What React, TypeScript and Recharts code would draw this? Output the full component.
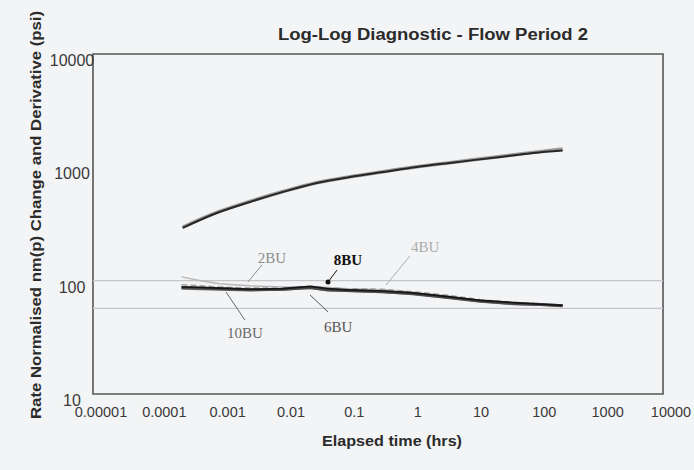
import React from 'react';
import { LineChart, Line, XAxis, YAxis, ReferenceLine, ReferenceArea, ReferenceDot } from 'recharts';

const xTicks = [0.00001, 0.0001, 0.001, 0.01, 0.1, 1, 10, 100, 1000, 10000];
const xTickLabels = ['0.00001', '0.0001', '0.001', '0.01', '0.1', '1', '10', '100', '1000', '10000'];
const yTicks = [10, 100, 1000, 10000];
const yTickLabels = ['10', '100', '1000', '10000'];

const titleText = 'Log-Log Diagnostic - Flow Period 2';
const xLabelText = 'Elapsed time (hrs)';
const yLabelText = 'Rate Normalised nm(p) Change and Derivative (psi)';

// pressure change (upper curves)
const changeTime = [0.00026, 0.0009, 0.003, 0.01, 0.034, 0.114, 0.38, 1.3, 4.3, 27, 89, 260];
const changeA = [292, 395, 495, 607, 728, 822, 910, 1008, 1094, 1236, 1341, 1410];
const changeB = [296, 400, 500, 612, 732, 826, 915, 1012, 1100, 1245, 1355, 1450];

// derivative (lower curves), one per build-up
const derivTime = [0.00025, 0.0005, 0.001, 0.003, 0.01, 0.027, 0.05, 0.1, 0.38, 1.1, 4.3, 13, 43, 120, 260];
const deriv2BU = [108, 100, 94, 90, 88, 89, 87, 85, 83, 79, 73, 67, 64, 62, 61];
const deriv4BU = [92, 90, 88, 86, 86, 89, 87, 85, 84, 80, 74, 68, 64.5, 62.5, 61];
const deriv6BU = [85, 84, 83, 82, 83, 86, 82, 81, 79, 76, 70, 65, 62, 61, 60];
const deriv8BU = [88, 87, 86, 84, 85, 89, 85, 83, 81, 78, 72, 67, 64, 62, 60.5];
const deriv10BU = [87, 86, 85, 83, 84, 87, 83, 82, 80, 77, 71, 66, 63, 61.5, 60];

const refLevels = [100, 57];

// annotation labels: text anchor and leader line ends, in data units
const annNames = ['2BU', '8BU', '4BU', '6BU', '10BU'];
const annTextT = [0.0067, 0.106, 1.75, 0.074, 0.0025];
const annTextV = [158, 152, 198, 39, 34.5];
const annFromT = [0.00467, 0.0713, 1.01, 0.0514, 0.0025];
const annFromV = [138, 124, 165, 53, 45];
const annToT = [0.0028, 0.0514, 0.424, 0.0267, 0.00126];
const annToV = [97.4, 97.4, 91.6, 74.8, 79.4];
const annColors = ['#8c8c8c', '#111111', '#ababab', '#555555', '#6a6a6a'];
const annBold = [false, true, false, false, false];

const zip = (ts: number[], vs: number[]) => ts.map((t, i) => ({ t, v: vs[i] }));

const derivSeries = [
  { name: '2BU', data: zip(derivTime, deriv2BU), color: '#b8b8b8', w: 1.5, dash: undefined },
  { name: '4BU', data: zip(derivTime, deriv4BU), color: '#a0a0a0', w: 1.5, dash: '6 3' },
  { name: '6BU', data: zip(derivTime, deriv6BU), color: '#777777', w: 2, dash: undefined },
  { name: '10BU', data: zip(derivTime, deriv10BU), color: '#4a4a4a', w: 3, dash: undefined },
  { name: '8BU', data: zip(derivTime, deriv8BU), color: '#151515', w: 1.6, dash: undefined },
];

const tickFont = "'Liberation Sans', Arial, sans-serif";

const XTick = (props: any) => {
  const { x, y, payload } = props;
  const i = xTicks.indexOf(payload.value);
  return (
    <text x={x + 8} y={y + 23} textAnchor="middle" fontSize={14.5} fill="#3a3a3a" fontFamily={tickFont}>
      {i >= 0 ? xTickLabels[i] : String(payload.value)}
    </text>
  );
};

const YTick = (props: any) => {
  const { x, y, payload } = props;
  const i = yTicks.indexOf(payload.value);
  return (
    <text x={x - 21} y={y + 12} textAnchor="middle" fontSize={16} fill="#3a3a3a" fontFamily={tickFont}>
      {i >= 0 ? yTickLabels[i] : String(payload.value)}
    </text>
  );
};

export default function App() {
  return (
    <div style={{ position: 'fixed', left: 0, top: 0, width: 694, height: 470, background: '#f3f4f6' }}>
      <LineChart width={694} height={470} margin={{ top: 54, right: 31, bottom: 46, left: 0 }}>
        <XAxis
          dataKey="t"
          type="number"
          scale="log"
          domain={[0.00001, 10000]}
          ticks={xTicks}
          allowDataOverflow
          axisLine={false}
          tickLine={false}
          tickSize={0}
          tickMargin={0}
          height={30}
          tick={<XTick />}
          interval={0}
        />
        <YAxis
          type="number"
          scale="log"
          domain={[10, 10000]}
          ticks={yTicks}
          allowDataOverflow
          axisLine={false}
          tickLine={false}
          tickSize={0}
          tickMargin={0}
          width={93}
          tick={<YTick />}
          interval={0}
        />
        {refLevels.map((lv) => (
          <ReferenceLine key={lv} y={lv} stroke="#c4c6c9" strokeWidth={1.2} />
        ))}
        <ReferenceArea x1={0.00001} x2={10000} y1={10} y2={10000} fill="none" stroke="#555" strokeWidth={1.6} ifOverflow="visible" />
        <Line data={zip(changeTime, changeB)} dataKey="v" stroke="#9a9a9a" strokeWidth={3.5} dot={false} isAnimationActive={false} type="monotone" />
        <Line data={zip(changeTime, changeA)} dataKey="v" stroke="#262626" strokeWidth={2} dot={false} isAnimationActive={false} type="monotone" />
        {derivSeries.map((s) => (
          <Line key={s.name} data={s.data} dataKey="v" stroke={s.color} strokeWidth={s.w} strokeDasharray={s.dash} dot={false} isAnimationActive={false} type="linear" />
        ))}
        {annNames.map((n, i) => (
          <ReferenceLine
            key={'l' + n}
            segment={[{ x: annFromT[i], y: annFromV[i] }, { x: annToT[i], y: annToV[i] }]}
            stroke={annColors[i]}
            strokeWidth={1}
          />
        ))}
        <ReferenceDot x={annToT[1]} y={annToV[1]} r={2.5} fill="#111" stroke="none" />
        {annNames.map((n, i) => (
          <ReferenceDot
            key={'t' + n}
            x={annTextT[i]}
            y={annTextV[i]}
            r={0}
            fill="none"
            stroke="none"
            label={{
              value: n,
              position: 'center',
              fill: annColors[i],
              fontSize: 15,
              fontWeight: annBold[i] ? 'bold' : 'normal',
              fontFamily: "'Liberation Serif', 'DejaVu Serif', serif",
            }}
          />
        ))}
      </LineChart>
      <svg width={694} height={470} style={{ position: 'absolute', left: 0, top: 0, pointerEvents: 'none' }}>
        <text x={433} y={40} textAnchor="middle" fontSize={16} fontWeight="bold" fill="#2b2b2b" fontFamily={tickFont} textLength={310} lengthAdjust="spacingAndGlyphs">
          {titleText}
        </text>
        <text x={392} y={446} textAnchor="middle" fontSize={15} fontWeight="bold" fill="#2b2b2b" fontFamily={tickFont} textLength={140} lengthAdjust="spacingAndGlyphs">
          {xLabelText}
        </text>
        <text transform="translate(41,215) rotate(-90)" textAnchor="middle" fontSize={15} fontWeight="bold" fill="#2b2b2b" fontFamily={tickFont} textLength={408} lengthAdjust="spacingAndGlyphs">
          {yLabelText}
        </text>
      </svg>
    </div>
  );
}
